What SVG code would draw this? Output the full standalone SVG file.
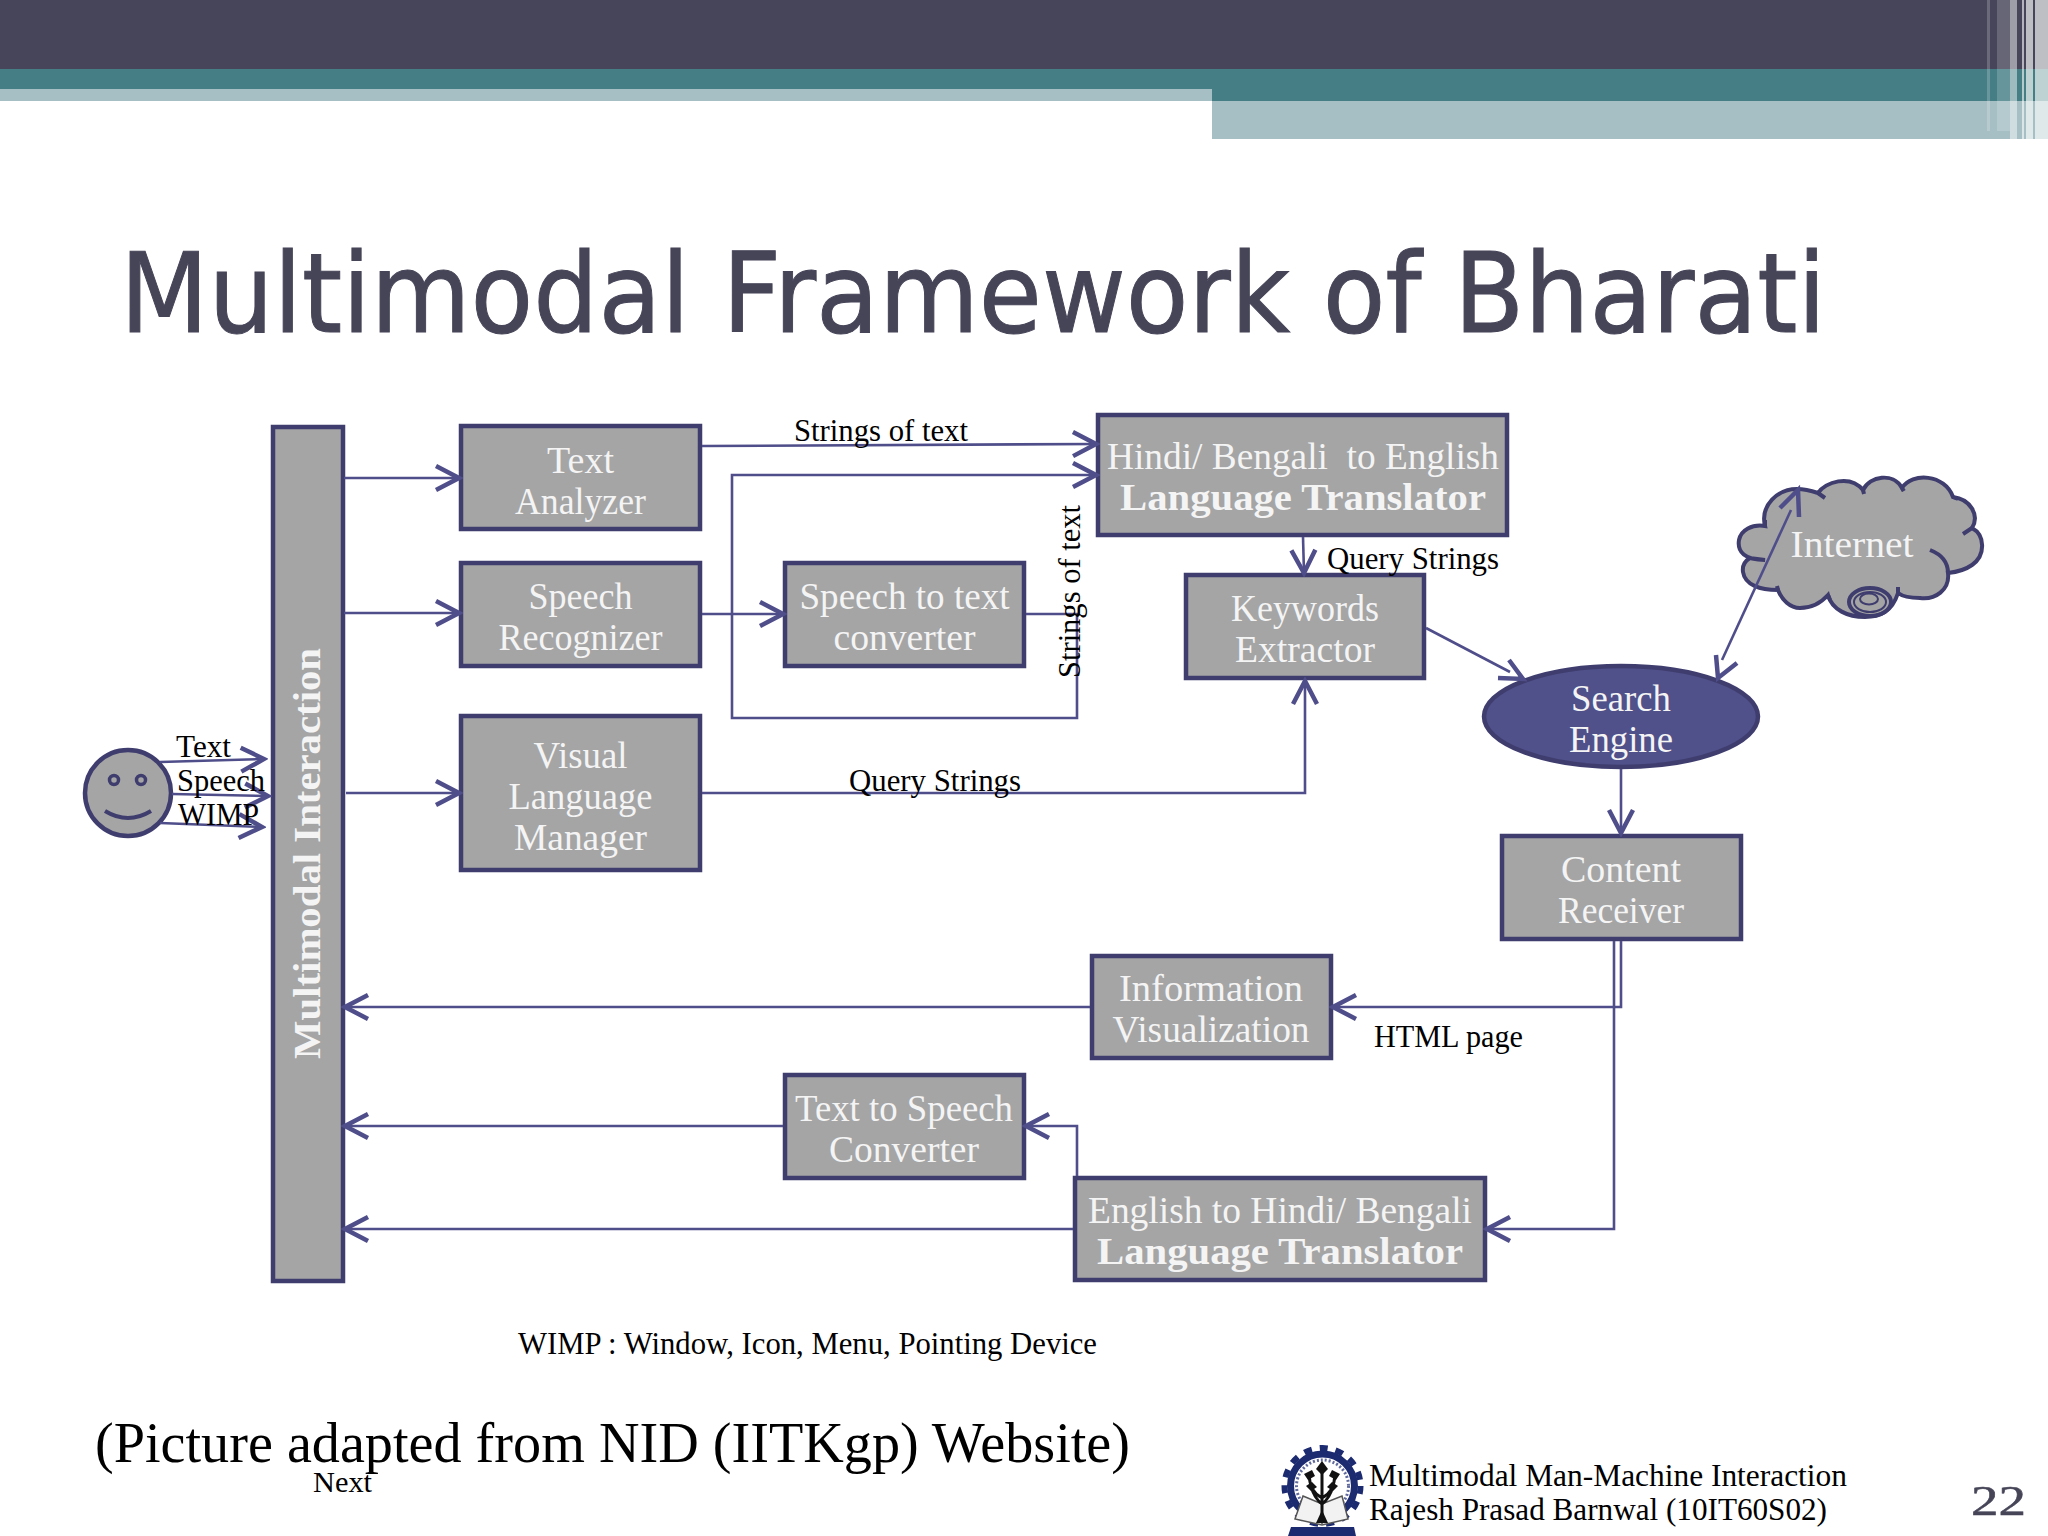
<svg xmlns="http://www.w3.org/2000/svg" width="2048" height="1536" viewBox="0 0 2048 1536">
<style>
.box{fill:#a5a5a6;stroke:#3f3d6e;stroke-width:4.5}
.t{font-family:"Liberation Serif",serif;font-size:38px;fill:#f4f4f4;text-anchor:middle}
.b{font-weight:bold;font-size:38px}
.k{font-family:"Liberation Serif",serif;font-size:31px;fill:#000}
.c{fill:none;stroke:#4f4e8a;stroke-width:2.6}
.a{marker-end:url(#h)}
.hd{fill:none;stroke:#4f4e8a;stroke-width:4.5}
</style>
<defs>
<marker id="h" markerUnits="userSpaceOnUse" viewBox="-26 -15 30 30" refX="0" refY="0" markerWidth="30" markerHeight="30" orient="auto">
<path d="M-23,-12 L0,0 L-23,12" fill="none" stroke="#4f4e8a" stroke-width="4.5"/>
</marker>
</defs>
<rect width="2048" height="1536" fill="#fff"/>
<g id="header">
<rect x="0" y="0" width="2048" height="69" fill="#46455a"/>
<rect x="0" y="69" width="2048" height="32" fill="#457e85"/>
<rect x="0" y="89" width="1212" height="12" fill="#a5bfc4"/>
<rect x="1212" y="101" width="836" height="38" fill="#a5bfc4"/>
<g fill="#fff">
<rect x="1987" y="0" width="3" height="131" opacity=".2"/>
<rect x="1997" y="0" width="13" height="131" opacity=".18"/>
<rect x="2010" y="0" width="7" height="139" opacity=".48"/>
<rect x="2022" y="0" width="2" height="139" opacity=".6"/>
<rect x="2026" y="0" width="7" height="139" opacity=".65"/>
<rect x="2035" y="0" width="13" height="139" opacity=".65"/>
</g>
</g>
<text id="title" x="120" y="332" textLength="1706" lengthAdjust="spacingAndGlyphs" font-family="'DejaVu Sans',sans-serif" font-size="111" fill="#464558" stroke="#464558" stroke-width="1">Multimodal Framework of Bharati</text>

<g id="multimodal-interaction">
<rect class="box" x="273" y="427" width="70" height="854"/>
<text class="t b" transform="translate(320,853.500) rotate(-90)" textLength="411" lengthAdjust="spacingAndGlyphs">Multimodal Interaction</text>
</g>
<g id="user">
<ellipse cx="128" cy="793" rx="43" ry="43" fill="#a5a5a6" stroke="#3f3d6e" stroke-width="4.500"/>
<circle cx="114" cy="780" r="4.500" fill="none" stroke="#3f3d6e" stroke-width="3.500"/>
<circle cx="141" cy="780" r="4.500" fill="none" stroke="#3f3d6e" stroke-width="3.500"/>
<path d="M105,811Q128,825 151,811" fill="none" stroke="#3f3d6e" stroke-width="4"/>
</g>
<g id="text-analyzer">
<rect class="box" x="461" y="426" width="239" height="103"/>
<text class="t" x="580.500" y="473" textLength="67" lengthAdjust="spacingAndGlyphs">Text</text>
<text class="t" x="580.500" y="514" textLength="131" lengthAdjust="spacingAndGlyphs">Analyzer</text>
</g>
<g id="speech-recognizer">
<rect class="box" x="461" y="563" width="239" height="103"/>
<text class="t" x="580.500" y="609" textLength="104" lengthAdjust="spacingAndGlyphs">Speech</text>
<text class="t" x="580.500" y="650" textLength="164" lengthAdjust="spacingAndGlyphs">Recognizer</text>
</g>
<g id="visual-language-manager">
<rect class="box" x="461" y="716" width="239" height="154"/>
<text class="t" x="580.500" y="768" textLength="94" lengthAdjust="spacingAndGlyphs">Visual</text>
<text class="t" x="580.500" y="809" textLength="144" lengthAdjust="spacingAndGlyphs">Language</text>
<text class="t" x="580.500" y="850" textLength="133" lengthAdjust="spacingAndGlyphs">Manager</text>
</g>
<g id="speech-to-text">
<rect class="box" x="785" y="563" width="239" height="103"/>
<text class="t" x="904.500" y="609" textLength="210" lengthAdjust="spacingAndGlyphs">Speech to text</text>
<text class="t" x="904.500" y="650" textLength="142" lengthAdjust="spacingAndGlyphs">converter</text>
</g>
<g id="hindi-english-translator">
<rect class="box" x="1098" y="415" width="409" height="120"/>
<text class="t" x="1303" y="469" textLength="392" lengthAdjust="spacingAndGlyphs" xml:space="preserve">Hindi/ Bengali  to English</text>
<text class="t b" x="1303" y="510" textLength="366" lengthAdjust="spacingAndGlyphs">Language Translator</text>
</g>
<g id="keywords-extractor">
<rect class="box" x="1186" y="575" width="238" height="103"/>
<text class="t" x="1305" y="621" textLength="148" lengthAdjust="spacingAndGlyphs">Keywords</text>
<text class="t" x="1305" y="662" textLength="140" lengthAdjust="spacingAndGlyphs">Extractor</text>
</g>
<g id="internet">
<path d="M1765,560C1745,560 1737,552 1739,540C1741,530 1752,524 1765,526C1760,505 1778,489 1797,489C1805,489 1812,491 1818,493C1825,482 1850,474 1863,490C1870,476 1893,472 1902,488C1912,472 1945,474 1953,497C1970,499 1980,515 1972,528C1985,535 1986,555 1972,565C1965,570 1957,572 1948,573C1950,590 1935,600 1920,598C1910,598 1902,596 1898,593C1892,612 1880,617 1865,617C1848,617 1832,610 1828,595C1820,604 1810,608 1800,608C1790,608 1782,600 1778,590C1760,590 1745,585 1743,572C1742,565 1745,561 1750,558Z" fill="#a5a5a6" stroke="#3f3d6e" stroke-width="4"/>
<g fill="none" stroke="#3f3d6e" stroke-width="4">
<path d="M1818,493L1825,498M1765,526V520M1863,490L1864,494M1902,488L1904,491M1953,497L1958,499M1972,528L1963,534M1930,550Q1948,557 1948,573M1898,593V587M1828,595L1830,600M1778,590L1777,586"/>
<ellipse cx="1870" cy="602" rx="21" ry="14"/>
</g>
<g fill="none" stroke="#3f3d6e" stroke-width="2">
<ellipse cx="1870" cy="602" rx="16" ry="10"/>
<ellipse cx="1869" cy="599" rx="9" ry="5.500"/>
</g>
<text class="t" x="1852" y="557" textLength="123" lengthAdjust="spacingAndGlyphs">Internet</text>
</g>
<g id="search-engine">
<ellipse cx="1621" cy="716.500" rx="137" ry="50.500" fill="#50508a" stroke="#3f3d6e" stroke-width="4.500"/>
<text class="t" x="1621" y="711" textLength="100" lengthAdjust="spacingAndGlyphs">Search</text>
<text class="t" x="1621" y="752" textLength="104" lengthAdjust="spacingAndGlyphs">Engine</text>
</g>
<g id="content-receiver">
<rect class="box" x="1502" y="836" width="239" height="103"/>
<text class="t" x="1621" y="882" textLength="120" lengthAdjust="spacingAndGlyphs">Content</text>
<text class="t" x="1621" y="923" textLength="126" lengthAdjust="spacingAndGlyphs">Receiver</text>
</g>
<g id="information-visualization">
<rect class="box" x="1092" y="956" width="239" height="102"/>
<text class="t" x="1211" y="1001" textLength="184" lengthAdjust="spacingAndGlyphs">Information</text>
<text class="t" x="1211" y="1042" textLength="197" lengthAdjust="spacingAndGlyphs">Visualization</text>
</g>
<g id="text-to-speech">
<rect class="box" x="785" y="1075" width="239" height="103"/>
<text class="t" x="904" y="1121" textLength="218" lengthAdjust="spacingAndGlyphs">Text to Speech</text>
<text class="t" x="904" y="1162" textLength="150" lengthAdjust="spacingAndGlyphs">Converter</text>
</g>
<g id="english-hindi-translator">
<rect class="box" x="1075" y="1178" width="410" height="102"/>
<text class="t" x="1280" y="1223" textLength="384" lengthAdjust="spacingAndGlyphs">English to Hindi/ Bengali</text>
<text class="t b" x="1280" y="1264" textLength="366" lengthAdjust="spacingAndGlyphs">Language Translator</text>
</g>

<g id="connectors">
<path class="c a" d="M344,478H459"/>
<path class="c a" d="M344,613H459"/>
<path class="c a" d="M346,793H459"/>
<path class="c a" d="M160,762L264,759"/>
<path class="c a" d="M172,794L268,796"/>
<path class="c a" d="M160,823L262,827"/>
<path class="c a" d="M702,446L1096,444"/>
<path class="c a" d="M1026,614H1077V718H732V475H1096"/>
<path class="c a" d="M702,614H783"/>
<path class="c a" d="M1303,537L1304,573"/>
<path class="c a" d="M702,793H1305V681"/>
<path class="c" d="M1426,628L1510,672"/>
<path class="hd" d="M1509,660L1523,679L1498,678"/>
<path class="c" d="M1791,510L1722,660"/>
<path class="hd" d="M1780,508L1798,490L1799,517"/>
<path class="hd" d="M1716,655L1718,678L1737,663"/>
<path class="c a" d="M1621,769V833"/>
<path class="c a" d="M1621,941V1007H1333"/>
<path class="c a" d="M1614,941V1229H1487"/>
<path class="c a" d="M1090,1007H345"/>
<path class="c a" d="M783,1126H345"/>
<path class="c a" d="M1073,1229H345"/>
<path class="c a" d="M1077,1176V1126H1026"/>
</g>

<g id="labels">
<text class="k" x="794" y="441" textLength="174" lengthAdjust="spacingAndGlyphs">Strings of text</text>
<text class="k" x="1327" y="569" textLength="172" lengthAdjust="spacingAndGlyphs">Query Strings</text>
<text class="k" x="849" y="791" textLength="172" lengthAdjust="spacingAndGlyphs">Query Strings</text>
<text class="k" transform="translate(1080,678) rotate(-90)" textLength="173" lengthAdjust="spacingAndGlyphs">Strings of text</text>
<text class="k" x="176" y="757" textLength="55" lengthAdjust="spacingAndGlyphs">Text</text>
<text class="k" x="177" y="791" textLength="88" lengthAdjust="spacingAndGlyphs">Speech</text>
<text class="k" x="178" y="825" textLength="81" lengthAdjust="spacingAndGlyphs">WIMP</text>
<text class="k" x="1374" y="1047" textLength="149" lengthAdjust="spacingAndGlyphs">HTML page</text>
<text class="k" x="518" y="1354" textLength="579" lengthAdjust="spacingAndGlyphs">WIMP : Window, Icon, Menu, Pointing Device</text>
<text class="k" x="95" y="1462" style="font-size:56px" textLength="1035" lengthAdjust="spacingAndGlyphs">(Picture adapted from NID (IITKgp) Website)</text>
<text class="k" x="313" y="1492" style="font-size:29px" textLength="59" lengthAdjust="spacingAndGlyphs">Next</text>
</g>

<g id="footer">
<g id="logo">
<circle cx="1322.500" cy="1486" r="38" fill="none" stroke="#1c2a70" stroke-width="6" stroke-dasharray="8 8"/>
<circle cx="1322.500" cy="1486" r="32" fill="#fff" stroke="#1c2a70" stroke-width="7"/>
<circle cx="1322.500" cy="1486" r="26" fill="none" stroke="#1c2a70" stroke-width="3" stroke-dasharray="2 2" opacity=".7"/>
<path d="M1303,1496L1322,1504L1342,1496L1348,1519L1322,1525L1295,1519Z" fill="#f2f2f2" stroke="#555" stroke-width="1.500"/>
<path d="M1322,1504V1524" stroke="#555" stroke-width="1.500"/>
<path d="M1322,1522V1470M1322,1498Q1310,1492 1309,1475M1322,1498Q1334,1492 1335,1475M1322,1504Q1314,1498 1311,1486M1322,1504Q1330,1498 1333,1486" fill="none" stroke="#111" stroke-width="3"/>
<path d="M1322,1461L1328,1469L1322,1475L1316,1469ZM1304,1474L1312,1470L1315,1476L1308,1480ZM1340,1474L1332,1470L1329,1476L1336,1480ZM1306,1486L1312,1482L1317,1487L1311,1491ZM1338,1486L1332,1482L1327,1487L1333,1491Z" fill="#111"/>
<path d="M1316,1523L1322,1510L1328,1523Z" fill="#111"/>
<path d="M1291,1527H1354L1356,1536H1288Z" fill="#1c2a70"/>
</g>
<text class="k" x="1369" y="1486" textLength="478" lengthAdjust="spacingAndGlyphs">Multimodal Man-Machine Interaction</text>
<text class="k" x="1369" y="1520" textLength="458" lengthAdjust="spacingAndGlyphs">Rajesh Prasad Barnwal (10IT60S02)</text>
<text x="1971" y="1515" font-family="'Liberation Serif',serif" font-size="42" fill="#464558" stroke="#464558" stroke-width=".5" textLength="55" lengthAdjust="spacingAndGlyphs">22</text>
</g>
</svg>
